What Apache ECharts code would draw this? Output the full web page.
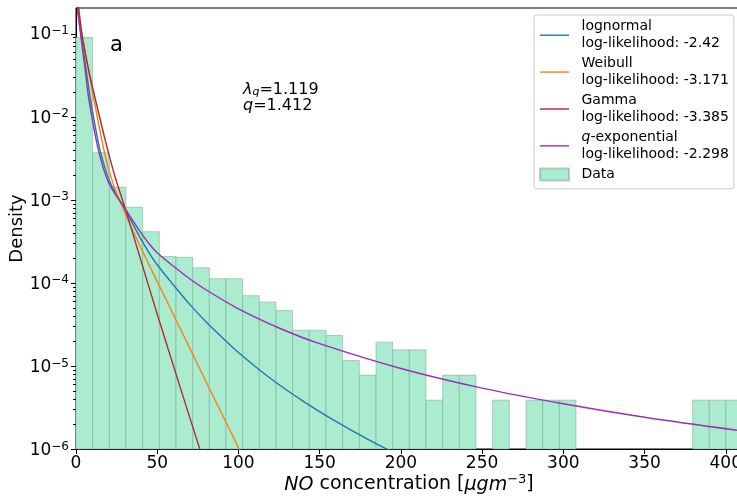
<!DOCTYPE html>
<html><head><meta charset="utf-8">
<script src="https://cdn.jsdelivr.net/npm/echarts@6/dist/echarts.min.js"></script>
<style>html,body{margin:0;padding:0;background:#fff}#c{width:737px;height:500px}</style>
</head><body><div id="c"></div>
<script>
// ---- data ----
const binEdges = [0, 10.26, 20.52, 30.78, 41.04, 51.3, 61.56, 71.82, 82.08, 92.34, 102.6, 112.86, 123.12, 133.38, 143.64, 153.9, 164.16, 174.42, 184.68, 194.94, 205.2, 215.46, 225.72, 235.98, 246.24, 256.5, 266.76, 277.02, 287.28, 297.54, 307.8, 318.06, 328.32, 338.58, 348.84, 359.1, 369.36, 379.62, 389.88, 400.14, 410.4];
const densities = [0.0895, 0.00368, 0.00141, 0.00081, 0.000412, 0.000207, 0.000203, 0.000152, 0.000112, 0.000112,
  7.0e-5, 5.85e-5, 4.63e-5, 2.69e-5, 2.69e-5, 2.32e-5, 1.16e-5, 7.75e-6, 1.93e-5, 1.56e-5,
  1.56e-5, 3.87e-6, 7.75e-6, 7.75e-6, 0, 3.87e-6, 0, 3.87e-6, 3.87e-6, 3.87e-6,
  0, 0, 0, 0, 0, 0, 0, 3.87e-6, 3.87e-6, 3.87e-6];

const lognormalX = [0.5, 1.1, 3.0, 6.0, 9.0, 14.8, 21.3, 30.6, 38.8, 45, 50, 60, 70, 80, 90, 100, 120, 140, 160, 180, 200];
const lognormalY = [0.4, 0.2, 0.1, 0.0397, 0.0158, 3.96e-3, 1.574e-3, 7.4e-4, 3.7e-4, 2.3e-4, 1.65e-4, 9.4e-5, 5.5e-5, 3.4e-5, 2.2e-5, 1.45e-5, 7.0e-6, 3.75e-6, 2.15e-6, 1.3e-6, 8.2e-7];
const weibullX = [0.6, 1.5, 3.5, 7.3, 11.1, 17.2, 22.8, 30.6, 42.9, 50, 60, 70, 80, 90, 100, 106];
const weibullY = [0.42, 0.2, 0.1, 0.0397, 0.0158, 3.96e-3, 1.574e-3, 6.6e-4, 2.0e-4, 1.04e-4, 4.13e-5, 1.64e-5, 6.5e-6, 2.6e-6, 1.04e-6, 6.0e-7];
const gammaX = [0.6, 1.0, 1.7, 3.8, 8.0, 12.5, 18.7, 24.0, 30.6, 40, 50, 60, 70, 80];
const gammaY = [0.43, 0.30, 0.2, 0.095, 0.035, 0.0145, 4.6e-3, 1.9e-3, 7.5e-4, 1.85e-4, 4.2e-5, 1.0e-5, 2.4e-6, 5.9e-7];
const qexpX = [0.4, 0.9, 2.8, 5.4, 8.0, 13.8, 20.3, 30.6, 40, 45, 50, 60, 70, 80, 100, 125, 150, 200, 250, 300, 350, 410];
const qexpY = [0.4, 0.2, 0.1, 0.0397, 0.0158, 3.96e-3, 1.574e-3, 7.6e-4, 4.0e-4, 2.95e-4, 2.3e-4, 1.58e-4, 1.12e-4, 8.25e-5, 4.86e-5, 2.86e-5, 1.85e-5, 9.3e-6, 5.4e-6, 3.5e-6, 2.41e-6, 1.65e-6];

const seriesNames = ['lognormal', 'Weibull', 'Gamma', 'q-exponential'];
const logLikelihoods = ['-2.42', '-3.171', '-3.385', '-2.298'];
const xTickValues = [0, 50, 100, 150, 200, 250, 300, 350, 400];
const yMajorTicks = [1e-6, 1e-5, 1e-4, 1e-3, 1e-2, 1e-1];
const yMinorTicks = [];
[1e-6, 1e-5, 1e-4, 1e-3, 1e-2, 1e-1].forEach(d => { for (let m = 2; m <= 9; m++) { const v = m * d; if (v < 0.2) yMinorTicks.push(v); } });
const annotationLambda = '1.119';
const annotationQ = '1.412';
const panelLabel = 'a';

// ---- styling ----
const FONT = 'DejaVu Sans';
const colors = ['#1f77b4', '#ff7f0e', '#b3282b', '#9a2fb2'];
const barColor = '#abecd0';
const barEdge = 'rgba(120,165,145,0.5)';
const Y_MIN = 1e-6, Y_MAX = 0.203;
const LINE_ICON = 'path://M0,0H29V1.4H0Z';

const histData = [];
densities.forEach((d, i) => { if (d > 0) histData.push([binEdges[i], binEdges[i + 1], d]); });
const tickData = yMajorTicks.map(v => [0, v, 5]).concat(yMinorTicks.map(v => [0, v, 3]));
const zip = (xs, ys) => xs.map((x, i) => [x, ys[i]]);
const lineData = [zip(lognormalX, lognormalY), zip(weibullX, weibullY), zip(gammaX, gammaY), zip(qexpX, qexpY)];

const chart = echarts.init(document.getElementById('c'), null, {renderer: 'canvas'});
const series = [];
series.push({
  name: 'Data', type: 'custom', data: histData, encode: {x: [0, 1], y: 2}, z: 1,
  itemStyle: {color: barColor, borderColor: barEdge, borderWidth: 1},
  renderItem: function (params, api) {
    const p0 = api.coord([api.value(0), api.value(2)]);
    const p1 = api.coord([api.value(1), Y_MIN]);
    return {type: 'rect', shape: {x: p0[0], y: p0[1], width: p1[0] - p0[0], height: p1[1] - p0[1]},
      style: {fill: barColor, stroke: barEdge, lineWidth: 1}};
  }
});
seriesNames.forEach((n, i) => {
  series.push({
    name: n, type: 'line', data: lineData[i], symbol: 'none', showSymbol: false, smooth: 0.3,
    clip: true, z: 3, lineStyle: {color: colors[i], width: 1.4}, itemStyle: {color: colors[i]}
  });
});
series.push({
  name: 'yticks', type: 'custom', data: tickData, encode: {x: 0, y: 1}, z: 5, clip: false, silent: true,
  renderItem: function (params, api) {
    const p = api.coord([api.value(0), api.value(1)]);
    const y = Math.round(p[1]) + 0.5;
    return {type: 'line', shape: {x1: p[0] - api.value(2), y1: y, x2: p[0], y2: y}, style: {stroke: '#000', lineWidth: 1}};
  }
});

const legendRich = {
  p: {width: 7.5, fontSize: 14, fontFamily: FONT, lineHeight: 16.7},
  it: {fontStyle: 'italic', fontSize: 14, fontFamily: FONT, lineHeight: 16.7, color: '#000'}
};

chart.setOption({
  animation: false,
  textStyle: {fontFamily: FONT},
  grid: {left: 76, top: 8, right: -5, bottom: 51, show: true, borderColor: '#000', borderWidth: 1,
    containLabel: false, outerBoundsMode: 'none'},
  xAxis: {
    type: 'value', min: 0, max: 410, interval: 50,
    name: '{i|NO} concentration [{i|μgm}{s|−3}]', nameLocation: 'middle', nameGap: 24, nameMoveOverlap: false,
    nameTextStyle: {fontSize: 19, color: '#000', fontFamily: FONT,
      rich: {i: {fontStyle: 'italic', fontSize: 19, fontFamily: FONT, color: '#000', padding: [3, 0, 0, 0]},
             s: {fontSize: 13, fontFamily: FONT, color: '#000', verticalAlign: 'top'}}},
    axisLine: {show: true, lineStyle: {color: '#000', width: 1}},
    axisTick: {show: true, inside: false, length: 5, lineStyle: {color: '#000', width: 1}},
    axisLabel: {fontSize: 17, color: '#000', margin: 6, showMaxLabel: false, fontFamily: FONT,
      formatter: v => (xTickValues.indexOf(v) >= 0 ? String(v) : '')},
    splitLine: {show: false}
  },
  yAxis: {
    type: 'log', logBase: 10, min: Y_MIN, max: Y_MAX,
    name: 'Density', nameLocation: 'middle', nameGap: 50, nameMoveOverlap: false,
    nameTextStyle: {fontSize: 18, color: '#000', fontFamily: FONT},
    axisLine: {show: true, lineStyle: {color: '#000', width: 1}},
    axisTick: {show: false},
    minorTick: {show: false},
    splitLine: {show: false},
    axisLabel: {
      margin: 7, color: '#000', fontFamily: FONT, showMaxLabel: false,
      formatter: function (v) {
        const l = Math.log10(v); const e = Math.round(l);
        if (Math.abs(l - e) > 1e-6 || yMajorTicks.every(t => Math.abs(Math.log10(t) - l) > 1e-6)) return '';
        return '{b|10}{s|' + (e < 0 ? '−' : '') + Math.abs(e) + '}';
      },
      rich: {
        b: {fontSize: 17, fontFamily: FONT, color: '#000', lineHeight: 17, padding: [3, 0, 0, 0]},
        s: {fontSize: 12, fontFamily: FONT, color: '#000', lineHeight: 12, verticalAlign: 'top'}
      }
    }
  },
  legend: {
    orient: 'vertical', left: 534, top: 15, padding: [3.5, 5, 6, 5], itemGap: 3.5,
    itemWidth: 29, itemHeight: 12, selectedMode: false,
    backgroundColor: '#fff', borderColor: '#cccccc', borderWidth: 1, borderRadius: 3,
    data: seriesNames.map(n => ({name: n, icon: LINE_ICON})).concat([{name: 'Data', icon: 'rect'}]),
    textStyle: {fontSize: 14, fontFamily: FONT, color: '#000', lineHeight: 16.7, rich: legendRich},
    formatter: function (name) {
      const i = seriesNames.indexOf(name);
      if (i < 0) return '{p| }' + name;
      const first = name === 'q-exponential' ? '{it|q}-exponential' : name;
      return '{p| }' + first + '\n{p| }log-likelihood: ' + logLikelihoods[i];
    }
  },
  graphic: [
    {type: 'text', left: 110, top: 35, silent: true,
      style: {text: panelLabel, fontSize: 21, fontFamily: FONT, fill: '#000'}},
    {type: 'text', left: 243, top: 80, silent: true,
      style: {text: '{it|λ}{sub|q}{n|=' + annotationLambda + '}\n{it|q}{n|=' + annotationQ + '}', fill: '#000',
        fontSize: 16, fontFamily: FONT,
        rich: {
          it: {fontStyle: 'italic', fontSize: 16, fontFamily: FONT, lineHeight: 16, verticalAlign: 'top'},
          n: {fontSize: 16, fontFamily: FONT, lineHeight: 16, verticalAlign: 'top'},
          sub: {fontStyle: 'italic', fontSize: 11, fontFamily: FONT, lineHeight: 11, verticalAlign: 'bottom', padding: [7, 0, 0, 0]}
        }}}
  ],
  series: series
});
</script></body></html>
